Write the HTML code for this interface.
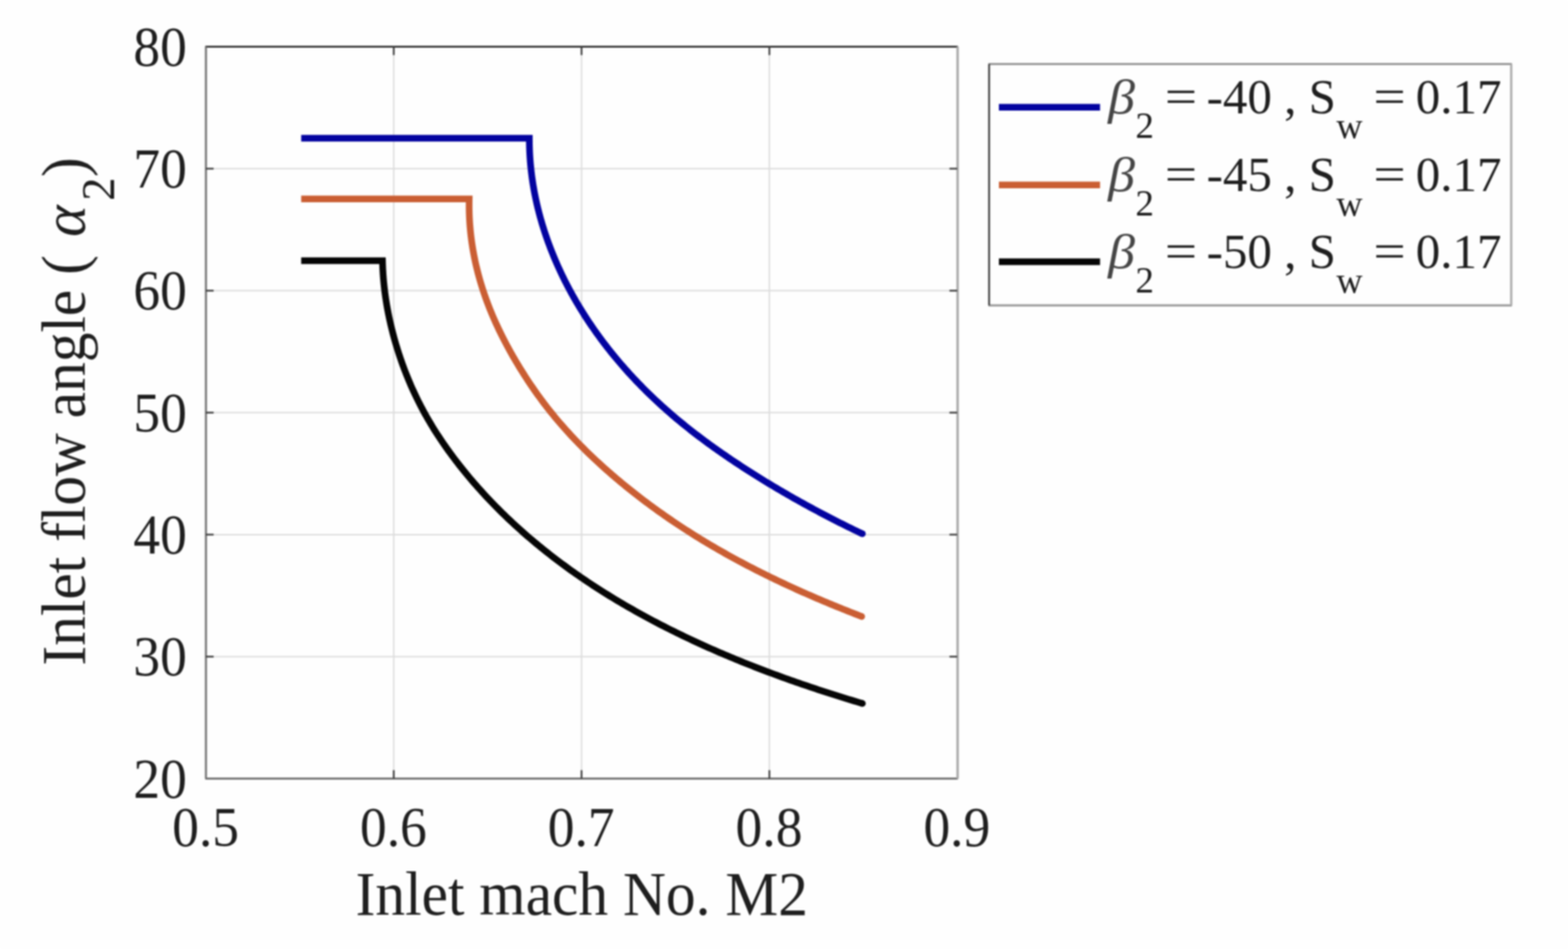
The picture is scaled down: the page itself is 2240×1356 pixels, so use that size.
<!DOCTYPE html>
<html><head><meta charset="utf-8"><style>
html,body{margin:0;padding:0;background:#fff;}
svg{display:block;filter:blur(0.8px);}
text{font-family:"Liberation Serif","Times New Roman",serif;fill:#1e1e1e;}
</style></head><body>
<svg width="2240" height="1356" viewBox="0 0 2240 1356">
<rect width="2240" height="1356" fill="#fefefe"/>

<g stroke="#dcdcdc" stroke-width="2"><line x1="562.5" y1="66.7" x2="562.5" y2="1112.5"/><line x1="830.8" y1="66.7" x2="830.8" y2="1112.5"/><line x1="1099.1" y1="66.7" x2="1099.1" y2="1112.5"/><line x1="294.2" y1="938.2" x2="1367.4" y2="938.2"/><line x1="294.2" y1="763.9" x2="1367.4" y2="763.9"/><line x1="294.2" y1="589.6" x2="1367.4" y2="589.6"/><line x1="294.2" y1="415.3" x2="1367.4" y2="415.3"/><line x1="294.2" y1="241.0" x2="1367.4" y2="241.0"/></g>
<path d="M430.30,197.50 L756.20,197.50 L756.21,200.79 L756.24,204.08 L756.30,207.37 L756.39,210.65 L756.51,213.94 L756.65,217.21 L756.82,220.49 L757.01,223.76 L757.23,227.03 L757.48,230.29 L757.75,233.55 L758.05,236.80 L758.38,240.06 L758.73,243.30 L759.11,246.55 L759.51,249.79 L759.93,253.02 L760.39,256.25 L760.86,259.48 L761.36,262.70 L761.89,265.91 L762.44,269.13 L763.01,272.33 L763.61,275.54 L764.24,278.73 L764.88,281.93 L765.55,285.11 L766.25,288.29 L766.96,291.47 L767.70,294.64 L768.47,297.81 L769.26,300.97 L770.06,304.12 L770.90,307.27 L771.75,310.41 L772.63,313.55 L773.53,316.68 L774.45,319.80 L775.39,322.92 L776.36,326.03 L777.35,329.14 L778.35,332.23 L779.38,335.33 L780.44,338.41 L781.51,341.49 L782.60,344.56 L783.71,347.63 L784.85,350.68 L786.00,353.74 L787.18,356.78 L788.37,359.81 L789.59,362.84 L790.83,365.86 L792.08,368.88 L793.36,371.88 L794.65,374.88 L795.96,377.87 L797.30,380.86 L798.65,383.83 L800.02,386.80 L801.41,389.76 L802.82,392.71 L804.24,395.65 L805.69,398.58 L807.15,401.51 L808.63,404.42 L810.13,407.33 L811.65,410.23 L813.18,413.12 L814.74,416.00 L816.30,418.87 L817.89,421.73 L819.49,424.59 L821.11,427.43 L822.75,430.27 L824.40,433.09 L826.07,435.91 L827.76,438.71 L829.46,441.51 L831.18,444.30 L832.91,447.07 L834.66,449.84 L836.43,452.60 L838.21,455.34 L840.01,458.08 L841.82,460.81 L843.64,463.52 L845.48,466.23 L847.34,468.92 L849.21,471.60 L851.09,474.28 L852.99,476.94 L854.90,479.59 L856.83,482.23 L858.77,484.86 L860.72,487.48 L862.69,490.08 L864.67,492.68 L866.67,495.26 L868.67,497.84 L870.70,500.40 L872.73,502.95 L874.78,505.49 L876.84,508.02 L878.91,510.54 L881.00,513.04 L883.09,515.54 L885.21,518.02 L887.33,520.50 L889.46,522.96 L891.61,525.41 L893.77,527.85 L895.94,530.28 L898.13,532.70 L900.32,535.10 L902.53,537.50 L904.75,539.89 L906.98,542.26 L909.22,544.62 L911.48,546.97 L913.74,549.31 L916.02,551.64 L918.30,553.96 L920.60,556.27 L922.91,558.56 L925.23,560.85 L927.56,563.12 L929.90,565.38 L932.25,567.64 L934.61,569.88 L936.98,572.11 L939.36,574.32 L941.76,576.53 L944.16,578.73 L946.57,580.91 L948.99,583.09 L951.42,585.25 L953.86,587.40 L956.31,589.54 L958.77,591.67 L961.24,593.79 L963.72,595.90 L966.20,598.00 L968.70,600.08 L971.20,602.16 L973.72,604.22 L976.24,606.28 L978.77,608.33 L981.31,610.36 L983.86,612.39 L986.41,614.40 L988.97,616.41 L991.55,618.41 L994.13,620.40 L996.71,622.37 L999.31,624.34 L1001.91,626.30 L1004.52,628.26 L1007.14,630.20 L1009.76,632.13 L1012.40,634.06 L1015.04,635.98 L1017.68,637.89 L1020.34,639.79 L1023.00,641.68 L1025.66,643.57 L1028.34,645.45 L1031.02,647.32 L1033.71,649.18 L1036.40,651.03 L1039.10,652.88 L1041.81,654.72 L1044.52,656.56 L1047.24,658.39 L1049.96,660.21 L1052.69,662.02 L1055.42,663.83 L1058.16,665.63 L1060.91,667.42 L1063.66,669.21 L1066.42,670.99 L1069.18,672.77 L1071.95,674.54 L1074.72,676.30 L1077.50,678.05 L1080.28,679.80 L1083.07,681.54 L1085.86,683.28 L1088.65,685.01 L1091.45,686.73 L1094.26,688.44 L1097.06,690.15 L1099.88,691.86 L1102.69,693.55 L1105.51,695.24 L1108.34,696.92 L1111.17,698.60 L1114.00,700.27 L1116.83,701.93 L1119.67,703.58 L1122.51,705.23 L1125.36,706.87 L1128.20,708.51 L1131.05,710.14 L1133.91,711.76 L1136.76,713.37 L1139.62,714.98 L1142.49,716.58 L1145.35,718.17 L1148.22,719.76 L1151.09,721.34 L1153.96,722.92 L1156.83,724.48 L1159.71,726.04 L1162.58,727.59 L1165.46,729.14 L1168.34,730.68 L1171.22,732.21 L1174.11,733.73 L1176.99,735.25 L1179.88,736.76 L1182.77,738.27 L1185.66,739.76 L1188.55,741.25 L1191.44,742.73 L1194.33,744.21 L1197.22,745.68 L1200.11,747.14 L1203.01,748.59 L1205.90,750.04 L1208.79,751.48 L1211.69,752.91 L1214.58,754.34 L1217.48,755.76 L1220.37,757.17 L1223.27,758.57 L1226.16,759.97 L1229.05,761.36 L1231.95,762.74" fill="none" stroke="#0303a0" stroke-width="9.5" stroke-linejoin="miter" stroke-linecap="butt"/>
<circle cx="1232.00" cy="762.70" r="4.75" fill="#0303a0"/>
<path d="M430.30,284.20 L670.30,284.20 L670.23,287.92 L670.19,291.63 L670.19,295.34 L670.23,299.04 L670.31,302.73 L670.42,306.42 L670.57,310.10 L670.76,313.77 L670.98,317.44 L671.24,321.10 L671.53,324.75 L671.86,328.40 L672.22,332.04 L672.62,335.67 L673.05,339.30 L673.52,342.92 L674.02,346.53 L674.55,350.13 L675.12,353.73 L675.72,357.31 L676.36,360.89 L677.03,364.47 L677.73,368.03 L678.46,371.59 L679.23,375.14 L680.02,378.68 L680.85,382.21 L681.71,385.73 L682.60,389.25 L683.52,392.75 L684.48,396.25 L685.46,399.74 L686.47,403.22 L687.52,406.70 L688.59,410.16 L689.69,413.61 L690.82,417.06 L691.98,420.50 L693.17,423.92 L694.39,427.34 L695.64,430.75 L696.91,434.15 L698.21,437.54 L699.54,440.92 L700.90,444.29 L702.28,447.65 L703.69,451.00 L705.13,454.34 L706.59,457.67 L708.08,460.99 L709.59,464.30 L711.12,467.60 L712.68,470.89 L714.27,474.17 L715.87,477.44 L717.50,480.70 L719.15,483.95 L720.82,487.19 L722.51,490.41 L724.22,493.63 L725.95,496.83 L727.70,500.03 L729.47,503.21 L731.26,506.38 L733.06,509.54 L734.89,512.69 L736.73,515.83 L738.58,518.95 L740.46,522.07 L742.35,525.17 L744.25,528.26 L746.17,531.34 L748.11,534.41 L750.06,537.46 L752.02,540.50 L754.01,543.53 L756.01,546.55 L758.02,549.56 L760.06,552.55 L762.11,555.53 L764.17,558.50 L766.26,561.46 L768.36,564.40 L770.48,567.33 L772.62,570.25 L774.78,573.15 L776.95,576.04 L779.14,578.92 L781.36,581.79 L783.59,584.64 L785.84,587.48 L788.10,590.30 L790.39,593.11 L792.69,595.91 L795.02,598.69 L797.35,601.46 L799.71,604.22 L802.08,606.97 L804.47,609.70 L806.88,612.41 L809.31,615.12 L811.75,617.81 L814.20,620.49 L816.67,623.15 L819.16,625.81 L821.66,628.45 L824.18,631.07 L826.71,633.69 L829.26,636.29 L831.82,638.87 L834.39,641.45 L836.98,644.01 L839.58,646.56 L842.20,649.10 L844.83,651.62 L847.47,654.14 L850.12,656.64 L852.79,659.12 L855.47,661.60 L858.16,664.06 L860.86,666.51 L863.58,668.95 L866.30,671.37 L869.04,673.79 L871.79,676.19 L874.54,678.58 L877.31,680.95 L880.09,683.32 L882.88,685.67 L885.68,688.01 L888.48,690.34 L891.30,692.66 L894.13,694.96 L896.96,697.26 L899.80,699.54 L902.65,701.81 L905.51,704.07 L908.38,706.31 L911.25,708.55 L914.14,710.77 L917.03,712.98 L919.93,715.19 L922.83,717.37 L925.75,719.55 L928.67,721.72 L931.60,723.87 L934.54,726.02 L937.49,728.15 L940.45,730.27 L943.41,732.38 L946.38,734.48 L949.36,736.57 L952.34,738.65 L955.34,740.72 L958.34,742.77 L961.35,744.82 L964.36,746.85 L967.39,748.88 L970.42,750.89 L973.46,752.89 L976.51,754.88 L979.56,756.86 L982.63,758.83 L985.70,760.79 L988.77,762.74 L991.86,764.68 L994.95,766.61 L998.05,768.53 L1001.15,770.43 L1004.27,772.33 L1007.39,774.22 L1010.52,776.09 L1013.65,777.96 L1016.80,779.82 L1019.95,781.66 L1023.10,783.50 L1026.27,785.33 L1029.44,787.14 L1032.62,788.95 L1035.80,790.75 L1038.99,792.54 L1042.19,794.31 L1045.39,796.08 L1048.60,797.84 L1051.82,799.59 L1055.04,801.33 L1058.27,803.05 L1061.50,804.77 L1064.74,806.48 L1067.99,808.19 L1071.24,809.88 L1074.49,811.56 L1077.75,813.23 L1081.02,814.90 L1084.29,816.55 L1087.56,818.19 L1090.84,819.83 L1094.12,821.46 L1097.41,823.08 L1100.70,824.68 L1104.00,826.28 L1107.30,827.88 L1110.60,829.46 L1113.91,831.03 L1117.22,832.60 L1120.53,834.15 L1123.85,835.70 L1127.17,837.24 L1130.49,838.77 L1133.82,840.29 L1137.15,841.80 L1140.48,843.30 L1143.81,844.80 L1147.15,846.29 L1150.49,847.77 L1153.83,849.24 L1157.17,850.70 L1160.52,852.15 L1163.87,853.60 L1167.21,855.04 L1170.56,856.46 L1173.92,857.89 L1177.27,859.30 L1180.62,860.70 L1183.98,862.10 L1187.33,863.49 L1190.69,864.87 L1194.05,866.25 L1197.41,867.61 L1200.76,868.97 L1204.12,870.32 L1207.48,871.66 L1210.84,873.00 L1214.20,874.33 L1217.56,875.65 L1220.92,876.96 L1224.27,878.27 L1227.63,879.56 L1230.99,880.85" fill="none" stroke="#ca5e33" stroke-width="9.5" stroke-linejoin="miter" stroke-linecap="butt"/>
<circle cx="1231.00" cy="880.90" r="4.75" fill="#ca5e33"/>
<path d="M430.30,372.40 L546.40,372.39 L546.52,376.66 L546.68,380.91 L546.88,385.16 L547.13,389.40 L547.41,393.64 L547.74,397.86 L548.11,402.07 L548.52,406.28 L548.96,410.47 L549.45,414.66 L549.98,418.83 L550.54,423.00 L551.15,427.15 L551.79,431.30 L552.47,435.44 L553.19,439.56 L553.94,443.68 L554.73,447.79 L555.56,451.88 L556.42,455.97 L557.32,460.04 L558.25,464.10 L559.21,468.15 L560.21,472.20 L561.25,476.23 L562.31,480.24 L563.41,484.25 L564.54,488.25 L565.71,492.23 L566.90,496.20 L568.13,500.16 L569.39,504.11 L570.68,508.05 L572.00,511.97 L573.35,515.89 L574.74,519.78 L576.15,523.67 L577.60,527.55 L579.08,531.41 L580.59,535.26 L582.13,539.09 L583.70,542.91 L585.31,546.72 L586.95,550.52 L588.62,554.30 L590.32,558.07 L592.06,561.82 L593.83,565.56 L595.63,569.29 L597.47,573.00 L599.33,576.70 L601.23,580.39 L603.17,584.06 L605.13,587.71 L607.13,591.36 L609.17,594.98 L611.23,598.59 L613.33,602.19 L615.46,605.77 L617.62,609.34 L619.80,612.89 L622.02,616.42 L624.27,619.94 L626.55,623.45 L628.85,626.93 L631.18,630.41 L633.54,633.86 L635.92,637.30 L638.33,640.73 L640.77,644.13 L643.23,647.53 L645.71,650.90 L648.22,654.26 L650.75,657.60 L653.30,660.92 L655.87,664.23 L658.47,667.52 L661.08,670.79 L663.72,674.05 L666.37,677.28 L669.04,680.50 L671.74,683.70 L674.44,686.89 L677.17,690.06 L679.92,693.20 L682.68,696.33 L685.45,699.45 L688.25,702.54 L691.06,705.62 L693.89,708.68 L696.73,711.72 L699.60,714.75 L702.47,717.75 L705.37,720.74 L708.27,723.72 L711.20,726.67 L714.14,729.61 L717.10,732.53 L720.07,735.44 L723.06,738.33 L726.06,741.20 L729.08,744.05 L732.11,746.89 L735.16,749.71 L738.22,752.51 L741.30,755.30 L744.39,758.07 L747.49,760.83 L750.61,763.57 L753.75,766.29 L756.90,769.00 L760.06,771.69 L763.23,774.36 L766.42,777.02 L769.63,779.66 L772.84,782.29 L776.07,784.90 L779.32,787.49 L782.57,790.07 L785.84,792.63 L789.12,795.18 L792.42,797.72 L795.72,800.23 L799.04,802.73 L802.37,805.22 L805.72,807.69 L809.07,810.15 L812.44,812.59 L815.82,815.02 L819.21,817.43 L822.62,819.82 L826.03,822.20 L829.46,824.57 L832.89,826.92 L836.34,829.26 L839.80,831.58 L843.27,833.89 L846.75,836.19 L850.24,838.47 L853.74,840.73 L857.26,842.98 L860.78,845.22 L864.31,847.44 L867.85,849.65 L871.40,851.85 L874.97,854.03 L878.54,856.19 L882.12,858.35 L885.71,860.49 L889.31,862.61 L892.92,864.73 L896.54,866.82 L900.16,868.91 L903.80,870.98 L907.44,873.04 L911.10,875.09 L914.76,877.12 L918.43,879.14 L922.10,881.14 L925.79,883.14 L929.48,885.12 L933.18,887.09 L936.89,889.04 L940.61,890.98 L944.33,892.91 L948.07,894.83 L951.80,896.73 L955.55,898.62 L959.30,900.50 L963.06,902.37 L966.83,904.23 L970.60,906.07 L974.38,907.90 L978.16,909.72 L981.96,911.52 L985.75,913.32 L989.56,915.10 L993.37,916.87 L997.18,918.63 L1001.00,920.38 L1004.83,922.11 L1008.66,923.84 L1012.50,925.55 L1016.34,927.25 L1020.19,928.94 L1024.04,930.62 L1027.90,932.29 L1031.76,933.94 L1035.62,935.59 L1039.49,937.22 L1043.37,938.85 L1047.25,940.46 L1051.13,942.06 L1055.02,943.65 L1058.91,945.23 L1062.80,946.80 L1066.70,948.36 L1070.60,949.91 L1074.50,951.45 L1078.41,952.97 L1082.32,954.49 L1086.23,956.00 L1090.15,957.49 L1094.07,958.98 L1097.99,960.46 L1101.91,961.92 L1105.84,963.38 L1109.77,964.83 L1113.70,966.27 L1117.63,967.69 L1121.56,969.11 L1125.50,970.52 L1129.44,971.92 L1133.37,973.31 L1137.31,974.69 L1141.26,976.06 L1145.20,977.42 L1149.14,978.77 L1153.09,980.11 L1157.03,981.45 L1160.98,982.77 L1164.92,984.09 L1168.87,985.40 L1172.81,986.69 L1176.76,987.98 L1180.71,989.26 L1184.65,990.54 L1188.60,991.80 L1192.55,993.06 L1196.49,994.30 L1200.44,995.54 L1204.38,996.77 L1208.32,997.99 L1212.27,999.21 L1216.21,1000.41 L1220.15,1001.61 L1224.08,1002.80 L1228.02,1003.98 L1231.96,1005.16" fill="none" stroke="#050505" stroke-width="9.5" stroke-linejoin="miter" stroke-linecap="butt"/>
<circle cx="1232.00" cy="1005.20" r="4.75" fill="#050505"/>
<line x1="293.2" y1="66.7" x2="1368.4" y2="66.7" stroke="#1f1f1f" stroke-width="2.5"/>
<line x1="294.2" y1="66.7" x2="294.2" y2="1112.5" stroke="#767676" stroke-width="3"/>
<line x1="293.2" y1="1112.5" x2="1368.4" y2="1112.5" stroke="#727272" stroke-width="3"/>
<line x1="1368.0" y1="66.7" x2="1368.0" y2="1112.5" stroke="#aaaaaa" stroke-width="3.5"/>
<g stroke="#3c3c3c" stroke-width="2.5"><line x1="562.5" y1="1112.5" x2="562.5" y2="1100.5"/><line x1="562.5" y1="66.7" x2="562.5" y2="78.7"/><line x1="830.8" y1="1112.5" x2="830.8" y2="1100.5"/><line x1="830.8" y1="66.7" x2="830.8" y2="78.7"/><line x1="1099.1" y1="1112.5" x2="1099.1" y2="1100.5"/><line x1="1099.1" y1="66.7" x2="1099.1" y2="78.7"/><line x1="294.2" y1="938.2" x2="305.2" y2="938.2"/><line x1="1367.4" y1="938.2" x2="1356.4" y2="938.2"/><line x1="294.2" y1="763.9" x2="305.2" y2="763.9"/><line x1="1367.4" y1="763.9" x2="1356.4" y2="763.9"/><line x1="294.2" y1="589.6" x2="305.2" y2="589.6"/><line x1="1367.4" y1="589.6" x2="1356.4" y2="589.6"/><line x1="294.2" y1="415.3" x2="305.2" y2="415.3"/><line x1="1367.4" y1="415.3" x2="1356.4" y2="415.3"/><line x1="294.2" y1="241.0" x2="305.2" y2="241.0"/><line x1="1367.4" y1="241.0" x2="1356.4" y2="241.0"/></g>
<text transform="translate(267,1139.5) scale(0.955,1)" font-size="80" text-anchor="end">20</text>
<text transform="translate(267,965.2) scale(0.955,1)" font-size="80" text-anchor="end">30</text>
<text transform="translate(267,790.9) scale(0.955,1)" font-size="80" text-anchor="end">40</text>
<text transform="translate(267,616.6) scale(0.955,1)" font-size="80" text-anchor="end">50</text>
<text transform="translate(267,442.3) scale(0.955,1)" font-size="80" text-anchor="end">60</text>
<text transform="translate(267,268.0) scale(0.955,1)" font-size="80" text-anchor="end">70</text>
<text transform="translate(267,93.7) scale(0.955,1)" font-size="80" text-anchor="end">80</text>
<text transform="translate(293.7,1209) scale(0.955,1)" font-size="80" text-anchor="middle">0.5</text>
<text transform="translate(562.0,1209) scale(0.955,1)" font-size="80" text-anchor="middle">0.6</text>
<text transform="translate(830.3,1209) scale(0.955,1)" font-size="80" text-anchor="middle">0.7</text>
<text transform="translate(1098.6,1209) scale(0.955,1)" font-size="80" text-anchor="middle">0.8</text>
<text transform="translate(1366.9,1209) scale(0.955,1)" font-size="80" text-anchor="middle">0.9</text>
<text transform="translate(508,1307) scale(0.965,1)" font-size="88">Inlet mach No. M2</text>
<text transform="translate(120.7,951.0) rotate(-90) scale(0.964,1)" font-size="88">Inlet flow angle (</text>
<text transform="translate(120.7,338.5) rotate(-90) scale(1.0,1)" font-size="86" font-style="italic">α</text>
<text transform="translate(162.7,287.0) rotate(-90) scale(1.0,1)" font-size="67">2</text>
<text transform="translate(120.7,253.0) rotate(-90) scale(0.964,1)" font-size="88">)</text>
<rect x="1413" y="91.4" width="745.9000000000001" height="344.9" fill="#fefefe"/>
<line x1="1412" y1="91.4" x2="2159.9" y2="91.4" stroke="#969696" stroke-width="3"/>
<line x1="1412" y1="436.3" x2="2159.9" y2="436.3" stroke="#9e9e9e" stroke-width="3.2"/>
<line x1="1413" y1="91.4" x2="1413" y2="436.3" stroke="#3a3a3a" stroke-width="2.6"/>
<line x1="2158.9" y1="91.4" x2="2158.9" y2="436.3" stroke="#acacac" stroke-width="3.2"/>
<line x1="1427" y1="153.2" x2="1571.5" y2="153.2" stroke="#0303a0" stroke-width="9.5"/>
<text transform="translate(1583,162.2) scale(1.1,1)" font-size="70" font-style="italic" style="fill:#454545">β</text>
<text x="1622" y="197.2" font-size="53">2</text>
<text transform="translate(1664,162.2) scale(1.17,1)" font-size="70">=</text>
<text x="1723.8" y="162.2" font-size="70">-40 , S</text>
<text x="1909" y="197.2" font-size="52">w</text>
<text transform="translate(1962,162.2) scale(1.17,1)" font-size="70">=</text>
<text x="2022.5" y="162.2" font-size="70">0.17</text>
<line x1="1427" y1="264.2" x2="1571.5" y2="264.2" stroke="#ca5e33" stroke-width="9.5"/>
<text transform="translate(1583,273.2) scale(1.1,1)" font-size="70" font-style="italic" style="fill:#454545">β</text>
<text x="1622" y="308.2" font-size="53">2</text>
<text transform="translate(1664,273.2) scale(1.17,1)" font-size="70">=</text>
<text x="1723.8" y="273.2" font-size="70">-45 , S</text>
<text x="1909" y="308.2" font-size="52">w</text>
<text transform="translate(1962,273.2) scale(1.17,1)" font-size="70">=</text>
<text x="2022.5" y="273.2" font-size="70">0.17</text>
<line x1="1427" y1="374.0" x2="1571.5" y2="374.0" stroke="#050505" stroke-width="9.5"/>
<text transform="translate(1583,383.0) scale(1.1,1)" font-size="70" font-style="italic" style="fill:#454545">β</text>
<text x="1622" y="418.0" font-size="53">2</text>
<text transform="translate(1664,383.0) scale(1.17,1)" font-size="70">=</text>
<text x="1723.8" y="383.0" font-size="70">-50 , S</text>
<text x="1909" y="418.0" font-size="52">w</text>
<text transform="translate(1962,383.0) scale(1.17,1)" font-size="70">=</text>
<text x="2022.5" y="383.0" font-size="70">0.17</text>
</svg></body></html>
